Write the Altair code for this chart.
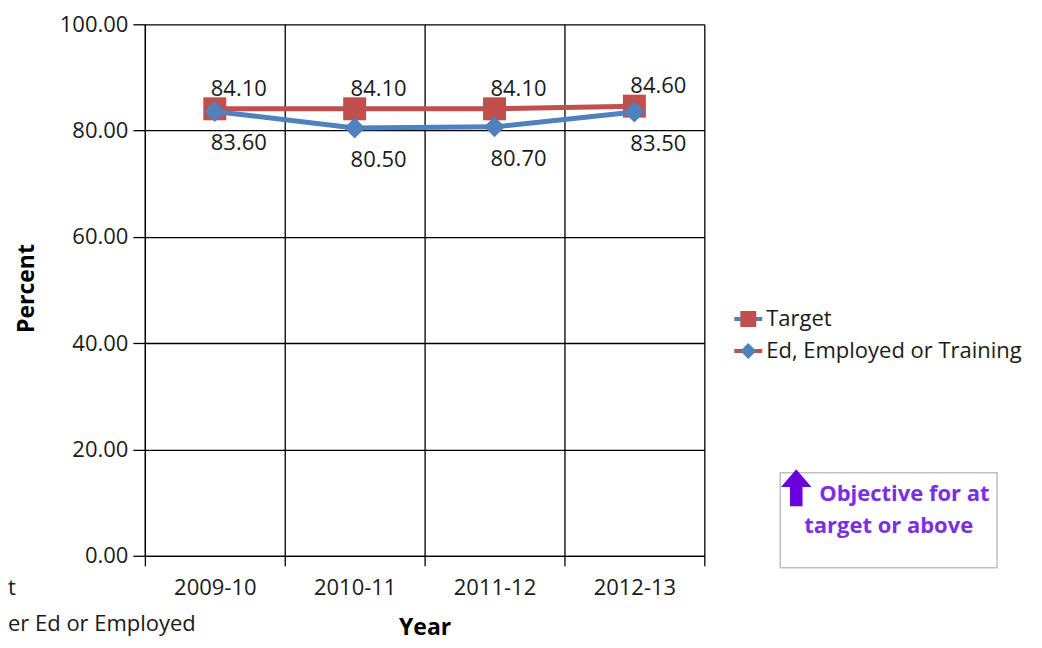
import altair as alt
import pandas as pd

# ---- data ----
years = ["2009-10", "2010-11", "2011-12", "2012-13"]
target = [84.10, 84.10, 84.10, 84.60]
ed_employed = [83.60, 80.50, 80.70, 83.50]
series_names = ["Target", "Ed, Employed or Training"]
y_ticks = [0, 20, 40, 60, 80, 100]
box_lines = ["Objective for at", "target or above"]
cut_texts = ["t", "er Ed or Employed"]

df = pd.DataFrame({
    "year": years * 2,
    "value": target + ed_employed,
    "series": [series_names[0]] * len(years) + [series_names[1]] * len(years),
})

RED = "#C0504D"
BLUE = "#4F81BD"
PURPLE_TXT = "#7B2FE0"
PURPLE_ARROW = "#6A00DD"
INK = "#1a1a1a"
FONT = "Open Sans"

x = alt.X(
    "year:N",
    sort=years,
    scale=alt.Scale(type="band", paddingInner=0, paddingOuter=0),
    axis=alt.Axis(
        title="Year", tickBand="extent", grid=True, labelAngle=0,
        tickSize=10, labelPadding=12, labelFontSize=22,
        titleFontSize=23, titleFontWeight="bold",
        titleY=72, titleBaseline="middle",
    ),
)
y = alt.Y(
    "value:Q",
    scale=alt.Scale(domain=[0, 100], nice=False),
    axis=alt.Axis(
        title="Percent", values=y_ticks, format=".2f", grid=True,
        tickSize=12, labelPadding=5, labelFontSize=22,
        titleFontSize=23, titleFontWeight="bold",
        titleAngle=270, titleX=-118, titleY=264,
        titleAlign="center", titleBaseline="middle",
    ),
)

base = alt.Chart(df)
t = base.transform_filter(alt.datum.series == series_names[0])
e = base.transform_filter(alt.datum.series == series_names[1])

t_line = t.mark_line(color=RED, strokeWidth=5).encode(x=x, y=y)
t_pts = t.mark_point(shape="square", filled=True, size=529, color=RED, opacity=1).encode(x=x, y=y)
e_line = e.mark_line(color=BLUE, strokeWidth=5).encode(x=x, y=y)
e_pts = e.mark_point(shape="diamond", filled=True, size=441, color=BLUE, opacity=1).encode(x=x, y=y)
t_lbl = t.mark_text(dx=24, dy=-20, fontSize=22, font=FONT, color=INK).encode(
    x=x, y=y, text=alt.Text("value:Q", format=".2f"))
e_lbl = e.mark_text(dx=24, dy=32, fontSize=22, font=FONT, color=INK).encode(
    x=x, y=y, text=alt.Text("value:Q", format=".2f"))

one = alt.Chart(alt.Data(values=[{"k": 0}]))

# manual legend (as in the reference, line colour swapped with marker colour)
leg_t_rule = one.mark_rule(color=BLUE, strokeWidth=4).encode(
    x=alt.value(590), x2=alt.value(618), y=alt.value(295))
leg_t_pt = one.mark_point(shape="square", filled=True, size=256, color=RED, opacity=1).encode(
    x=alt.value(604), y=alt.value(295))
leg_t_txt = one.mark_text(align="left", baseline="middle", fontSize=22, font=FONT, color=INK).encode(
    x=alt.value(622), y=alt.value(295), text=alt.value(series_names[0]))
leg_e_rule = one.mark_rule(color=RED, strokeWidth=4).encode(
    x=alt.value(590), x2=alt.value(618), y=alt.value(327))
leg_e_pt = one.mark_point(shape="diamond", filled=True, size=256, color=BLUE, opacity=1).encode(
    x=alt.value(604), y=alt.value(327))
leg_e_txt = one.mark_text(align="left", baseline="middle", fontSize=22, font=FONT, color=INK).encode(
    x=alt.value(622), y=alt.value(327), text=alt.value(series_names[1]))

# objective box
box = one.mark_rect(fill="white", stroke="#BFBFBF", strokeWidth=1.5).encode(
    x=alt.value(636), x2=alt.value(853), y=alt.value(449), y2=alt.value(544))
arrow_path = "M0,-1 L0.82,-0.05 L0.34,-0.05 L0.34,1 L-0.34,1 L-0.34,-0.05 L-0.82,-0.05 Z"
arrow = one.mark_point(shape=arrow_path, filled=True, size=1369, color=PURPLE_ARROW, opacity=1).encode(
    x=alt.value(652), y=alt.value(464))
box_t1 = one.mark_text(align="left", baseline="middle", fontSize=22, fontWeight="bold",
                       font=FONT, color=PURPLE_TXT).encode(
    x=alt.value(675), y=alt.value(470), text=alt.value(box_lines[0]))
box_t2 = one.mark_text(align="left", baseline="middle", fontSize=22, fontWeight="bold",
                       font=FONT, color=PURPLE_TXT).encode(
    x=alt.value(660), y=alt.value(502), text=alt.value(box_lines[1]))

# remnants of a cut-off legend at bottom-left
cut1 = one.mark_text(align="left", baseline="middle", fontSize=22, font=FONT, color=INK).encode(
    x=alt.value(-137), y=alt.value(564), text=alt.value(cut_texts[0]))
cut2 = one.mark_text(align="left", baseline="middle", fontSize=22, font=FONT, color=INK).encode(
    x=alt.value(-137), y=alt.value(600), text=alt.value(cut_texts[1]))

chart = alt.layer(
    t_line, t_pts, e_line, e_pts, t_lbl, e_lbl,
    leg_t_rule, leg_t_pt, leg_t_txt, leg_e_rule, leg_e_pt, leg_e_txt,
    box, arrow, box_t1, box_t2, cut1, cut2,
).properties(
    width=560, height=532,
    padding={"left": 137, "top": 16, "right": 330, "bottom": 90},
    autosize=alt.AutoSizeParams(type="none"),
    background="white",
).configure_view(stroke=None).configure_axis(
    domainColor="#000", gridColor="#000", tickColor="#000",
    labelColor=INK, titleColor="#000",
    gridWidth=1.3, domainWidth=1.3, tickWidth=1.3,
    labelFont=FONT, titleFont=FONT, gridOpacity=1,
)

chart.save("out.html", embed_options={"renderer": "svg", "actions": False})
